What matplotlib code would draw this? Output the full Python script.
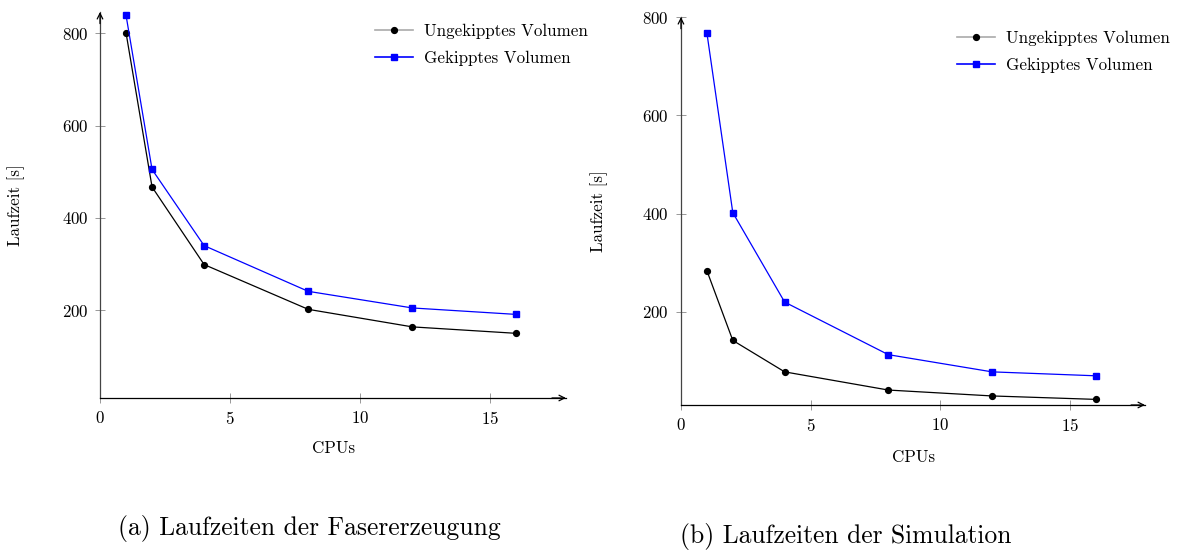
import matplotlib
matplotlib.use("Agg")
import matplotlib.pyplot as plt
from matplotlib.lines import Line2D

plt.rcParams['font.family'] = ['cmr10', 'DejaVu Serif']
plt.rcParams['mathtext.fontset'] = 'cm'
plt.rcParams['axes.formatter.use_mathtext'] = True

cpus = [1, 2, 4, 8, 12, 16]

# (a) Laufzeiten der Fasererzeugung
faser_ungekippt = [801, 467, 299, 202, 164, 150]
faser_gekippt = [839, 505, 340, 241, 205, 191]

# (b) Laufzeiten der Simulation
sim_ungekippt = [284, 142, 78, 41, 29, 22]
sim_gekippt = [768, 402, 220, 113, 78, 70]

label_ungekippt = "Ungekipptes Volumen"
label_gekippt = "Gekipptes Volumen"
xlabel = "CPUs"
ylabel = "Laufzeit [s]"
xticks = [0, 5, 10, 15]
yticks = [200, 400, 600, 800]
captions = ["(a) Laufzeiten der Fasererzeugung", "(b) Laufzeiten der Simulation"]

fig = plt.figure(figsize=(11.82, 5.51), dpi=100)

axes_specs = [
    dict(rect=[0.0846, 0.2777, 0.3942, 0.7005], ylim=(10, 846),
         u=faser_ungekippt, g=faser_gekippt,
         leg_anchor=(0.590, 0.969), xl_y=-0.111, yl_x=-0.162,
         cap=(0.0998, 0.0417)),
    dict(rect=[0.5761, 0.2650, 0.3926, 0.7040], ylim=(10.6, 800),
         u=sim_ungekippt, g=sim_gekippt,
         leg_anchor=(0.595, 0.964), xl_y=-0.116, yl_x=-0.157,
         cap=(0.5753, 0.0272)),
]

FS = 12.2
for i, spec in enumerate(axes_specs):
    ax = fig.add_axes(spec['rect'])
    ax.plot(cpus, spec['u'], color='black', lw=0.9, marker='o', ms=4.2,
            mfc='black', mec='black', clip_on=False, zorder=3)
    ax.plot(cpus, spec['g'], color='blue', lw=0.9, marker='s', ms=4.8,
            mfc='blue', mec='blue', clip_on=False, zorder=3)
    ax.set_xlim(0, 17.9)
    ax.set_ylim(*spec['ylim'])
    ax.set_xticks(xticks)
    ax.set_yticks(yticks)
    for s in ['top', 'right']:
        ax.spines[s].set_visible(False)
    ax.spines['left'].set_color('#444444')
    ax.spines['bottom'].set_color('black')
    ax.spines['left'].set_linewidth(0.9)
    ax.spines['bottom'].set_linewidth(0.9)
    ax.tick_params(direction='inout', length=7, width=0.6, color='#888888',
                   labelsize=FS, pad=5)
    # axis arrow heads (pgfplots style "->")
    ax.annotate('', xy=(1, 0), xytext=(0.97, 0), xycoords='axes fraction',
                arrowprops=dict(arrowstyle='->', lw=0.9, color='black',
                                shrinkA=0, shrinkB=0, mutation_scale=10))
    ax.annotate('', xy=(0, 1), xytext=(0, 0.97), xycoords='axes fraction',
                arrowprops=dict(arrowstyle='->', lw=0.9, color='black',
                                shrinkA=0, shrinkB=0, mutation_scale=10))
    ax.set_xlabel(xlabel, fontsize=FS)
    ax.set_ylabel(ylabel, fontsize=FS)
    ax.xaxis.set_label_coords(0.502, spec['xl_y'])
    ax.yaxis.set_label_coords(spec['yl_x'], 0.5)
    handles = [
        Line2D([], [], color='#aaaaaa', lw=1.2, marker='o', ms=4.2,
               mfc='black', mec='black'),
        Line2D([], [], color='blue', lw=1.2, marker='s', ms=4.8,
               mfc='blue', mec='blue'),
    ]
    ax.legend(handles, [label_ungekippt, label_gekippt], loc='upper left',
              bbox_to_anchor=spec['leg_anchor'], frameon=False, fontsize=FS,
              borderpad=0, borderaxespad=0,
              handlelength=2.25, handletextpad=0.65, labelspacing=0.65)
    fig.text(spec['cap'][0], spec['cap'][1], captions[i], fontsize=18.4,
             ha='left', va='center')

fig.savefig("out.png", dpi=100)
